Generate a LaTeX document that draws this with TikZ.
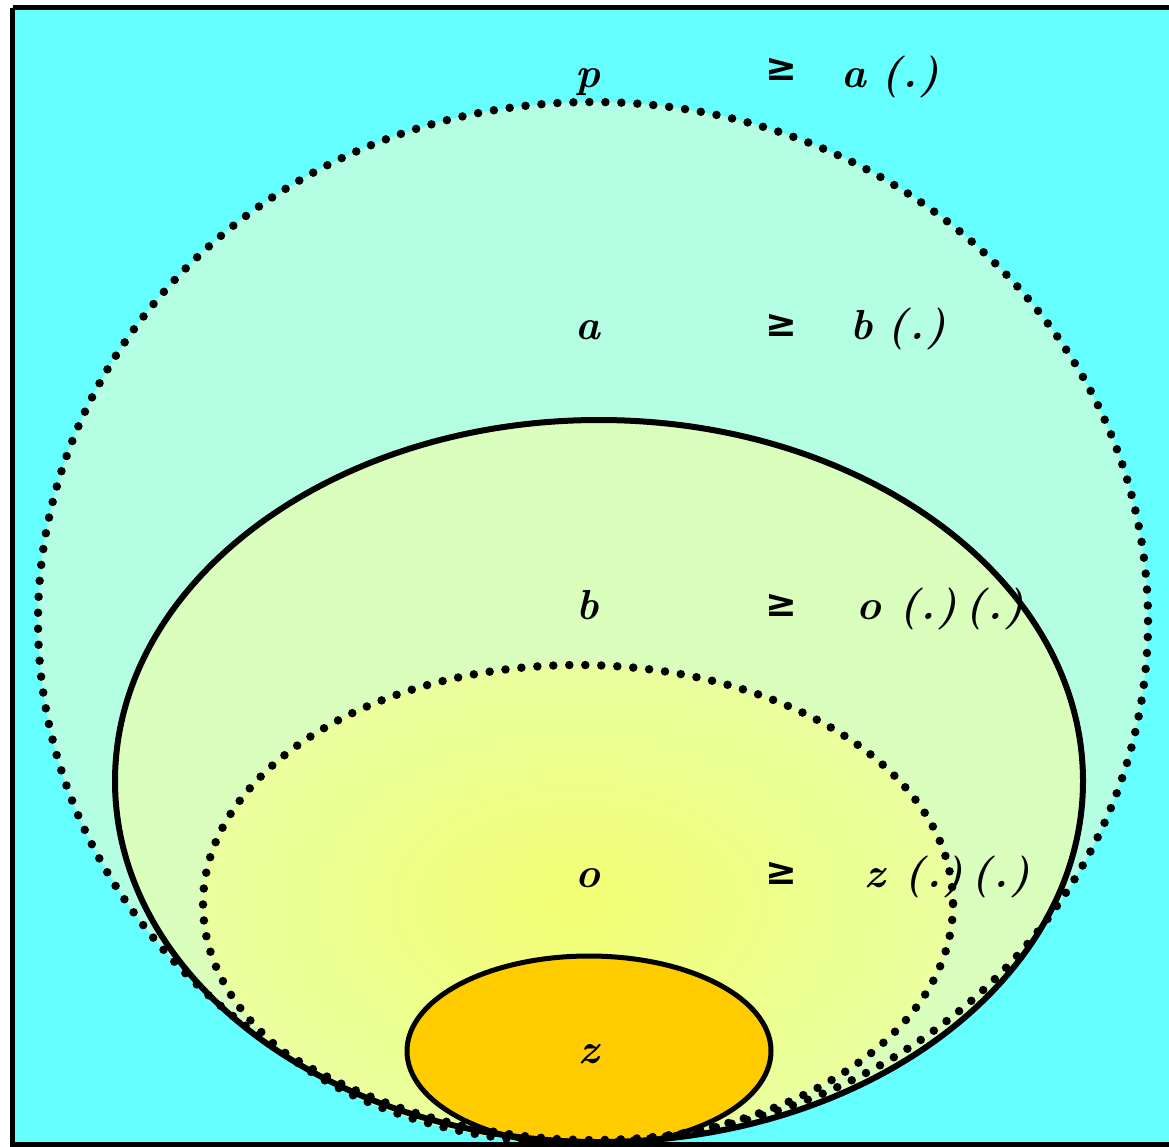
\documentclass[tikz,border=0pt]{standalone}
\usepackage{fontspec}
\newfontfamily\symfont{DejaVu Sans}
\definecolor{bgcyan}{RGB}{102,255,255}
\definecolor{bigfill}{RGB}{180,255,228}
\definecolor{midfill}{RGB}{218,255,188}
\definecolor{innfill}{RGB}{240,255,145}
\definecolor{zfill}{RGB}{255,204,0}
\tikzset{
  dotline/.style={line width=8.5pt, line cap=round, dash pattern=on 0pt off 16pt},
  solidline/.style={line width=6pt},
  lbl/.style={anchor=base, inner sep=0pt, font=\fontsize{42}{44}\selectfont\itshape\bfseries},
  rlbl/.style={anchor=base west, inner sep=0pt, font=\fontsize{42}{44}\selectfont\itshape\bfseries},
  geq/.style={anchor=base, inner sep=0pt, font=\fontsize{38}{40}\selectfont\symfont\bfseries}
}
\newcommand{\pdot}{(\hspace{2pt}.\hspace{2pt})}
\begin{document}
\begin{tikzpicture}[x=1pt,y=-1pt]
\useasboundingbox (0,0) rectangle (1169,1146);
\clip (0,0) rectangle (1169,1146);
\fill[white] (0,0) rectangle (1169,1146);
\fill[bgcyan] (12,7) rectangle (1180,1144);
% fills
\fill[bigfill] (593,621) ellipse [x radius=555, y radius=519];
\fill[midfill] (599,781) ellipse [x radius=484, y radius=361];
\shade[inner color=innfill!80!yellow, outer color=innfill!70!midfill] (578,904) ellipse [x radius=375, y radius=239];
\fill[zfill] (589,1051) ellipse [x radius=182, y radius=95];
% outlines
\draw[solidline] (599,781) ellipse [x radius=484, y radius=361];
\draw[dotline] (593,621) ellipse [x radius=555, y radius=519];
\draw[dotline] (578,904) ellipse [x radius=375, y radius=239];
\draw[line width=5pt] (589,1051) ellipse [x radius=182, y radius=95];
% frame
\draw[line width=5pt] (12.5,7.5) -- (1180,7.5);
\draw[line width=5pt] (12.5,7.5) -- (12.5,1144.5) -- (1180,1144.5);
% labels
\node[lbl] (p) at (588,87) {p};
\node[geq] (g1) at (781,80) {≥};
\node[rlbl] (r1) at (841,87) {a\hspace{15pt}\pdot};
\node[lbl] (a) at (588,339) {a};
\node[geq] (g2) at (781,336) {≥};
\node[rlbl] (r2) at (850,339) {b\hspace{15pt}\pdot};
\node[lbl] (b) at (588,619) {b};
\node[geq] (g3) at (781,616) {≥};
\node[rlbl] (r3) at (856,619) {o\hspace{18pt}\pdot\hspace{8pt}\pdot};
\node[lbl] (o) at (588,887) {o};
\node[geq] (g4) at (781,884) {≥};
\node[rlbl] (r4) at (864,887) {z\hspace{20pt}\pdot\hspace{8pt}\pdot};
\node[lbl] (z) at (589,1063) {z};
\end{tikzpicture}
\end{document}
